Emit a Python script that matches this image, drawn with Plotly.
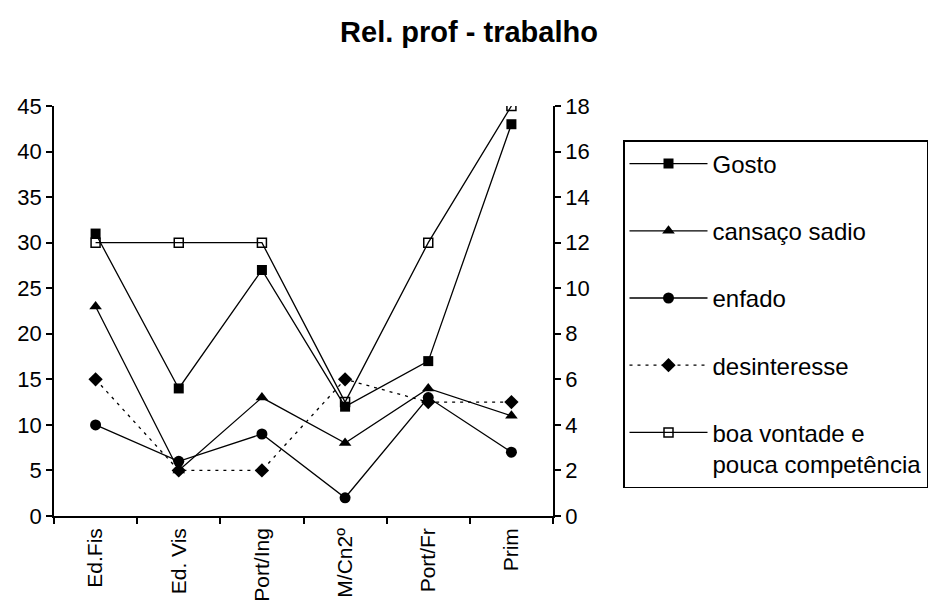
import plotly.graph_objects as go

categories = ["Ed.Fis", "Ed. Vis", "Port/Ing", "M/Cn2º", "Port/Fr", "Prim"]
gosto = [31, 14, 27, 12, 17, 43]
cansaco = [23, 5, 13, 8, 14, 11]
enfado = [10, 6, 9, 2, 13, 7]
desinteresse = [6, 2, 2, 6, 5, 5]          # right axis
boa_vontade = [12, 12, 12, 5, 12, 18]      # right axis

left_ticks = [0, 5, 10, 15, 20, 25, 30, 35, 40, 45]
right_ticks = [0, 2, 4, 6, 8, 10, 12, 14, 16, 18]

FONT = "Liberation Sans, Arial, sans-serif"
W, H = 931, 612
L, R, T, B = 54, 378, 106, 96

fig = go.Figure()

line = dict(color="black", width=1.3)

fig.add_trace(go.Scatter(x=categories, y=gosto, name="Gosto", mode="lines+markers",
                         line=line, marker=dict(symbol="square", size=10, color="black"),
                         legendgroup="g1", xaxis="x", yaxis="y"))
fig.add_trace(go.Scatter(x=categories, y=cansaco, name="cansaço sadio", mode="lines+markers",
                         line=line, marker=dict(symbol="triangle-up", size=11, color="black"),
                         legendgroup="g2", xaxis="x", yaxis="y"))
fig.add_trace(go.Scatter(x=categories, y=enfado, name="enfado", mode="lines+markers",
                         line=line, marker=dict(symbol="circle", size=11, color="black"),
                         legendgroup="g3", xaxis="x", yaxis="y"))
fig.add_trace(go.Scatter(x=categories, y=desinteresse, name="desinteresse", mode="lines+markers",
                         line=dict(color="black", width=1.3, dash="3px,5px"),
                         marker=dict(symbol="diamond", size=11, color="black"),
                         legendgroup="g4", xaxis="x", yaxis="y2"))
fig.add_trace(go.Scatter(x=categories, y=boa_vontade, name="boa vontade e<br>pouca competência",
                         mode="lines+markers", line=line,
                         marker=dict(symbol="square-open", size=9, color="black",
                                     line=dict(width=1.5, color="black")),
                         legendgroup="g5", xaxis="x", yaxis="y2"))

tickfont = dict(family=FONT, size=22, color="black")
xtickfont = dict(family=FONT, size=21, color="black")

fig.update_layout(
    width=W, height=H,
    margin=dict(l=L, r=R, t=T, b=B, autoexpand=False),
    paper_bgcolor="white", plot_bgcolor="white",
    font=dict(family=FONT, color="black"),
    title=dict(text="<b>Rel. prof - trabalho</b>", x=469 / W, xanchor="center",
               y=1 - 32 / H, yanchor="middle",
               font=dict(family=FONT, size=29, color="black")),
    showlegend=True,
    legend=dict(x=(623 - L) / (W - L - R), xanchor="left",
                y=(H - B - 140) / (H - T - B), yanchor="top",
                bordercolor="black", borderwidth=1.5, bgcolor="white",
                font=dict(family=FONT, size=24, color="black"),
                itemwidth=78, tracegroupgap=33, traceorder="grouped",
                valign="top", itemclick=False),
    xaxis=dict(type="category", categoryorder="array", categoryarray=categories,
               range=[-0.5, 5.5], tickson="boundaries", ticks="outside", ticklen=6,
               tickwidth=1.5, tickcolor="black", showline=True, linecolor="black",
               linewidth=1.5, showgrid=False, zeroline=False, tickangle=-90,
               tickfont=xtickfont, ticklabelstandoff=2),
    xaxis2=dict(overlaying="x", anchor="y", side="bottom", range=[-0.5, 5.5],
                tickvals=[0.5, 1.5, 2.5, 3.5, 4.5], ticks="inside", ticklen=6,
                tickwidth=1.5, tickcolor="black", showticklabels=False,
                showline=False, showgrid=False, zeroline=False),
    yaxis=dict(range=[0, 45], tickvals=left_ticks, ticks="outside", ticklen=6,
               tickwidth=1.5, tickcolor="black", showline=True, linecolor="black",
               linewidth=1.5, showgrid=False, zeroline=False, tickfont=tickfont),
    yaxis2=dict(range=[0, 18], tickvals=right_ticks, overlaying="y", side="right",
                anchor="x", ticks="outside", ticklen=6, tickwidth=1.5, tickcolor="black",
                showline=True, linecolor="black", linewidth=1.5, showgrid=False,
                zeroline=False, tickfont=tickfont),
    yaxis3=dict(range=[0, 45], tickvals=left_ticks, overlaying="y", side="left",
                anchor="x", ticks="inside", ticklen=6, tickwidth=1.5, tickcolor="black",
                showticklabels=False, showline=False, showgrid=False, zeroline=False),
    yaxis4=dict(range=[0, 18], tickvals=right_ticks, overlaying="y", side="right",
                anchor="x", ticks="inside", ticklen=6, tickwidth=1.5, tickcolor="black",
                showticklabels=False, showline=False, showgrid=False, zeroline=False),
)

fig.write_html("out.html",
               config={"displayModeBar": False},
               post_script="document.body.style.margin='0';document.body.style.overflow='hidden';")
